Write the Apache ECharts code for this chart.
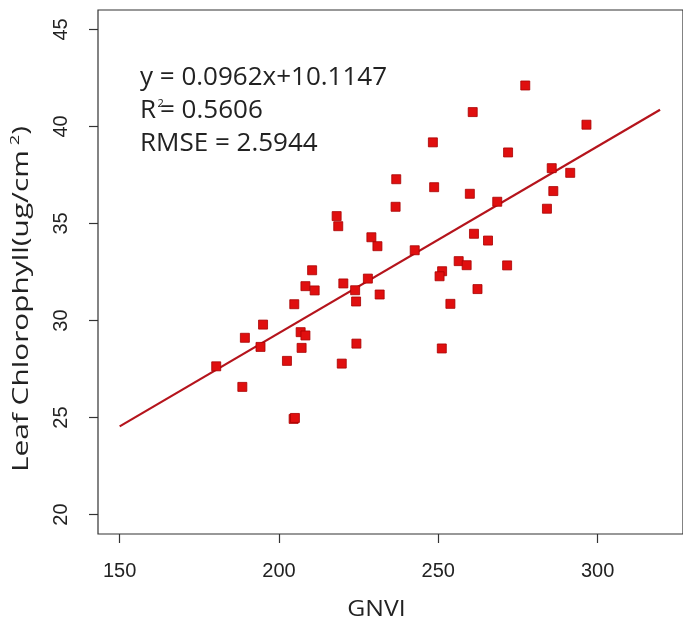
<!DOCTYPE html>
<html>
<head>
<meta charset="utf-8">
<script src="https://cdn.jsdelivr.net/npm/echarts@6/dist/echarts.min.js"></script>
<style>html,body{margin:0;padding:0;background:#fff;}#c{width:683px;height:625px;}</style>
</head>
<body>
<div id="c"></div>
<script>
// GNVI values (x)
const gnvi = [218.1, 218.6, 229.0, 230.9, 210.4, 277.3, 260.8, 296.5, 248.3, 271.9,
  285.6, 291.4, 236.8, 248.7, 286.1, 259.9, 236.6, 284.1, 268.5, 261.2,
  265.6, 242.6, 256.4, 258.9, 271.6, 251.2, 250.4, 231.6, 262.3, 253.8,
  251.1, 208.3, 211.2, 220.2, 223.9, 227.9, 224.2, 204.8, 195.0, 189.3,
  194.2, 206.8, 208.3, 207.1, 202.5, 224.3, 219.7, 180.3, 188.5, 204.6, 205.0];
// Leaf chlorophyll values (y)
const chl = [35.38, 34.86, 34.29, 33.83, 32.59, 42.11, 40.74, 40.09, 39.18, 38.66,
  37.85, 37.61, 37.28, 36.87, 36.67, 36.53, 35.86, 35.76, 36.12, 34.47,
  34.12, 33.62, 33.06, 32.85, 32.84, 32.54, 32.28, 31.34, 31.62, 30.86,
  28.56, 31.77, 31.55, 31.91, 31.56, 32.16, 30.98, 30.84, 29.79, 29.11,
  28.64, 29.40, 29.23, 28.59, 27.92, 28.81, 27.78, 27.64, 26.58, 24.93, 24.98];
// Fit line
const slope = 0.0962, intercept = 10.1147;
const fitRange = [150, 319.6];
// Tick labels
const xTicks = [150, 200, 250, 300];
const yTicks = [20, 25, 30, 35, 40, 45];
const eqLines = ['y = 0.0962x+10.1147', '= 0.5606', 'RMSE = 2.5944'];
const xTitle = 'GNVI';
const yTitle = ['Leaf Chlorophyll(ug/cm', '2', ')'];

const chart = echarts.init(document.getElementById('c'), null, {renderer: 'canvas'});
const pts = gnvi.map((x, i) => [x, chl[i]]);
const fit = fitRange.map(x => [x, slope * x + intercept]);
const txtFont = '"Open Sans", "Noto Sans", sans-serif';
const tickFont = '"Liberation Sans", Arial, sans-serif';

chart.setOption({
  animation: false,
  backgroundColor: '#fff',
  grid: {left: 98, top: 10, width: 597, height: 524, show: true, borderColor: '#333', borderWidth: 1.2, backgroundColor: 'transparent'},
  xAxis: {
    type: 'value', min: 143.2, max: 326.8,
    axisLine: {show: false},
    axisTick: {show: true, customValues: xTicks, length: 9, lineStyle: {color: '#333', width: 1.2}},
    axisLabel: {customValues: xTicks, fontSize: 20, color: '#222', margin: 27, fontFamily: tickFont},
    splitLine: {show: false}
  },
  yAxis: {
    type: 'value', min: 19, max: 46,
    axisLine: {show: false},
    axisTick: {show: true, customValues: yTicks, length: 9, lineStyle: {color: '#333', width: 1.2}},
    axisLabel: {customValues: yTicks, fontSize: 20, color: '#222', rotate: 90, margin: 27, fontFamily: tickFont},
    splitLine: {show: false}
  },
  graphic: [
    {type: 'text', x: 140, y: 65, style: {text: eqLines[0], font: '26px ' + txtFont, fill: '#222', textVerticalAlign: 'top'}},
    {type: 'text', x: 140, y: 98, style: {text: 'R', font: '26px ' + txtFont, fill: '#222', textVerticalAlign: 'top'}},
    {type: 'text', x: 157.5, y: 98, style: {text: '2', font: '11px ' + txtFont, fill: '#222', textVerticalAlign: 'top'}},
    {type: 'text', x: 160, y: 98, style: {text: eqLines[1], font: '26px ' + txtFont, fill: '#222', textVerticalAlign: 'top'}},
    {type: 'text', x: 140, y: 131, style: {text: eqLines[2], font: '26px ' + txtFont, fill: '#222', textVerticalAlign: 'top'}},
    {type: 'text', x: 376.5, y: 610, scaleX: 1.18, style: {text: xTitle, font: '21px ' + txtFont, fill: '#222', textAlign: 'center', textVerticalAlign: 'middle'}},
    {type: 'text', x: 22, y: 299, rotation: Math.PI / 2, scaleX: 1.42,
     style: {
       text: '{a|' + yTitle[0] + '}{s| ' + yTitle[1] + '}{a|' + yTitle[2] + '}',
       fill: '#222', textAlign: 'center', textVerticalAlign: 'middle',
       rich: {
         a: {font: '21px ' + txtFont, fill: '#222', lineHeight: 26},
         s: {font: '13px ' + txtFont, fill: '#222', verticalAlign: 'top', lineHeight: 26}
       }
     }}
  ],
  series: [
    {type: 'line', data: fit, showSymbol: false, symbol: 'none', z: 2,
     lineStyle: {color: '#b5141c', width: 2.2}},
    {type: 'scatter', data: pts, symbol: 'rect', symbolSize: 9, z: 3,
     itemStyle: {color: '#e00f0f', borderColor: '#a80000', borderWidth: 0.8, opacity: 1}}
  ]
});
</script>
</body>
</html>
